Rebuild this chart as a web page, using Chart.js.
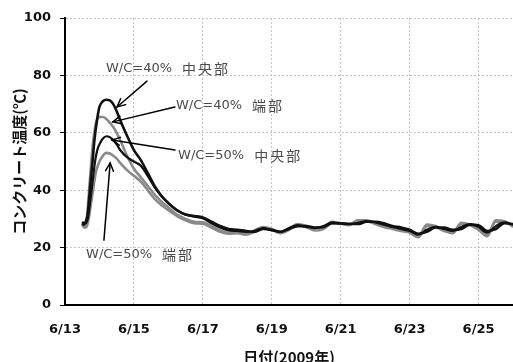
<!DOCTYPE html>
<html><head><meta charset="utf-8">
<script src="https://cdn.jsdelivr.net/npm/chart.js@4.4.0/dist/chart.umd.min.js"></script>
<style>html,body{margin:0;padding:0;background:#fff;overflow:hidden}</style>
</head><body><canvas id="c" width="513" height="362"></canvas>
<script>
// time axis: day of June 2009 (fractional)
const days = [13.5,13.55,13.6,13.65,13.7,13.75,13.8,13.85,13.9,13.95,
  14.0,14.1,14.2,14.3,14.4,14.5,14.6,
  14.8,15.0,15.2,15.4,15.6,15.8,16.0,
  16.25,16.5,16.75,17.0,17.25,17.5,17.75,18.0,
  18.25,18.5,18.75,19.0,19.25,19.5,19.75,20.0,
  20.25,20.5,20.75,21.0,21.25,21.5,21.75,22.0,
  22.25,22.5,22.75,23.0,23.25,23.5,23.75,24.0,
  24.25,24.5,24.75,25.0,25.25,25.5,25.75,26.0];

const wc40Center = [28.5,28,29,31,37,44,50,57,62,66,
  69,71,71.5,71.3,70,67.5,64.5,
  59,54,50.5,46,41.5,38,35.5,
  33,31.5,31,30.5,29,27.5,26.5,26.2,
  25.8,25.5,26.5,26.2,25.5,26.5,27.5,27.5,
  27,27.2,28.5,28.5,28.3,28.2,29,29,
  28.5,27.5,27,26.2,24.8,25.5,27,27,
  26.2,26.5,28,27.8,25.8,26.5,28.5,28.2];

const wc40Edge = [28,27,28,32,40,48,55,60,63.5,65,
  65.5,65.5,64.8,63.5,62,60,57.5,
  52,47.5,44.5,41.5,38.5,36,34,
  31.5,30,29,28.8,27.5,26,25.2,25.5,
  24.8,26,27.2,26.5,25.2,26.5,28.2,27.5,
  26.2,26.8,29,28.5,28,29.5,29.5,28.5,
  27.5,26.8,26.2,25.5,23.8,28,27.5,26,
  25.2,28.6,28,26.5,24.2,29.5,29.2,27.5];

const wc50Center = [29,28.5,28.5,29.5,33,38,43,48,52,54.5,
  56,58,58.8,58.5,57.5,56,54,
  51.5,50,48.5,45,41,38,35.5,
  33,31.5,30.8,30.2,28.5,27,26,25.8,
  25.5,25.8,26.8,26,25.5,26.8,27.8,27.2,
  26.8,27.5,28.8,28.3,28.2,28.6,29.2,28.8,
  28,27.2,26.5,25.8,24.5,26.2,27.2,26.5,
  25.8,27.2,28.2,27.2,25.2,27.5,28.8,28];

const wc50Edge = [28.5,27.5,27,28,31,35,39,43,46.5,48.5,
  50,52,53,52.8,52,51,49.5,
  47,45,43,40,37,34.8,33,
  31,29.5,28.5,28.3,27,25.5,24.8,25,
  24.5,25.5,26.8,26.2,25,26.2,27.8,27.2,
  26,26.5,28.5,28.3,27.8,29.2,29.2,28.2,
  27.2,26.5,25.8,25.2,23.6,27.5,27.2,25.8,
  25,28.2,27.8,26.2,24,29,29,27.2];

const seriesNames = ['W/C=40% 中央部','W/C=50% 中央部','W/C=40% 端部','W/C=50% 端部'];
const tickDays = [13,15,17,19,21,23,25];
const tickLabels = ['6/13','6/15','6/17','6/19','6/21','6/23','6/25'];
const yTickValues = [0,20,40,60,80,100];
const noteTexts = [['W/C=40%','中央部'],['W/C=40%','端部'],['W/C=50%','中央部'],['W/C=50%','端部']];

const notesPlugin = {
  id: 'notes',
  afterDatasetsDraw(chart, args, opts) {
    const {ctx} = chart; const xs = chart.scales.x, ys = chart.scales.y;
    ctx.save();
    opts.items.forEach((it, i) => {
      const x1 = xs.getPixelForValue(it.from[0]), y1 = ys.getPixelForValue(it.from[1]);
      const x2 = xs.getPixelForValue(it.to[0]), y2 = ys.getPixelForValue(it.to[1]);
      ctx.strokeStyle = '#000'; ctx.lineWidth = 1.5; ctx.lineCap = 'round';
      ctx.beginPath(); ctx.moveTo(x1, y1); ctx.lineTo(x2, y2); ctx.stroke();
      const a = Math.atan2(y2 - y1, x2 - x1), L = 9, w = 0.45;
      ctx.beginPath();
      ctx.moveTo(x2 - L * Math.cos(a - w), y2 - L * Math.sin(a - w));
      ctx.lineTo(x2, y2);
      ctx.lineTo(x2 - L * Math.cos(a + w), y2 - L * Math.sin(a + w));
      ctx.stroke();
      const tx = xs.getPixelForValue(it.at[0]), ty = ys.getPixelForValue(it.at[1]);
      ctx.fillStyle = '#4a4a4a'; ctx.textBaseline = 'middle'; ctx.textAlign = 'left';
      ctx.font = '13px "DejaVu Sans"';
      ctx.fillText(noteTexts[i][0], tx, ty);
      const w1 = ctx.measureText(noteTexts[i][0]).width;
      ctx.font = '14px "Noto Sans CJK JP"';
      ctx.letterSpacing = '2px';
      ctx.fillText(noteTexts[i][1], tx + w1 + 10, ty);
      ctx.letterSpacing = '0px';
    });
    ctx.restore();
  }
};

const mk = (label, vals, color, width) => ({
  label, data: days.map((d, i) => ({x: d, y: vals[i]})),
  borderColor: color, borderWidth: width, pointRadius: 0,
  cubicInterpolationMode: 'monotone', fill: false
});

new Chart(document.getElementById('c'), {
  type: 'line',
  data: {datasets: [
    mk(seriesNames[0], wc40Center, '#111', 2.6),
    mk(seriesNames[1], wc50Center, '#111', 2.2),
    mk(seriesNames[2], wc40Edge, '#8a8a8a', 2.6),
    mk(seriesNames[3], wc50Edge, '#8a8a8a', 2.6)
  ]},
  options: {
    responsive: false, animation: false, devicePixelRatio: 1,
    layout: {padding: {top: 18, right: 0, left: 0, bottom: 0}},
    plugins: {
      legend: {display: false}, tooltip: {enabled: false},
      notes: {items: [
        {at: [14.19, 82.2], from: [15.38, 78], to: [14.51, 69]},
        {at: [16.22, 69.3], from: [16.19, 69.0], to: [14.39, 63.8]},
        {at: [16.28, 51.9], from: [16.19, 54.0], to: [14.36, 57.5]},
        {at: [13.61, 17.4], from: [14.13, 22.6], to: [14.31, 49.5]}
      ]}
    },
    scales: {
      x: {
        type: 'linear', min: 13, max: 26,
        afterBuildTicks: s => { s.ticks = tickDays.map(v => ({value: v})); },
        afterFit: s => { s.height = 57; },
        ticks: {
          callback: v => tickLabels[tickDays.indexOf(v)],
          font: {family: 'DejaVu Sans', size: 13, weight: 'bold'}, color: '#111',
          padding: 17, maxRotation: 0, autoSkip: false
        },
        grid: {color: '#c4c4c4', lineWidth: 1, drawTicks: false},
        border: {color: '#000', width: 2, dash: [2, 2]},
        title: {display: true, text: '日付(2009年)', color: '#111',
          font: {family: 'Noto Sans CJK JP', size: 15, weight: 'bold'}, padding: {top: 0, bottom: -4}}
      },
      y: {
        min: 0, max: 100,
        afterBuildTicks: s => { s.ticks = yTickValues.map(v => ({value: v})); },
        afterFit: s => { s.width = 65; },
        ticks: {font: {family: 'DejaVu Sans', size: 13, weight: 'bold'}, color: '#111', padding: 9},
        grid: {color: '#c4c4c4', lineWidth: 1, tickColor: '#000', tickLength: 5, tickWidth: 1, tickBorderDash: []},
        border: {color: '#000', width: 2, dash: [2, 2]},
        title: {display: true, text: 'コンクリート温度(℃)', color: '#111',
          font: {family: 'Noto Sans CJK JP', size: 15, weight: 'bold'}, padding: {top: 10, bottom: 0}}
      }
    }
  },
  plugins: [notesPlugin]
});
</script></body></html>
